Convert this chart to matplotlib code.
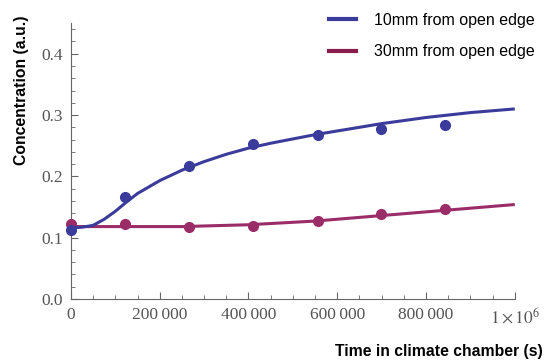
import matplotlib.pyplot as plt
from matplotlib.ticker import MultipleLocator, FuncFormatter
from matplotlib.lines import Line2D

plt.rcParams['mathtext.fontset'] = 'stix'

# measured points
t_pts = [0, 121600, 266000, 410000, 556000, 698000, 842000]
c10_pts = [0.112, 0.166, 0.217, 0.252, 0.267, 0.278, 0.284]
c30_pts = [0.122, 0.122, 0.117, 0.119, 0.127, 0.138, 0.146]

# fitted curves
t_fit = [0, 25000, 50000, 75000, 100000, 125000, 150000, 200000, 250000, 300000,
         350000, 400000, 450000, 500000, 550000, 600000, 650000, 700000, 750000,
         800000, 850000, 900000, 950000, 1000000]
c10_fit = [0.116, 0.117, 0.120, 0.130, 0.143, 0.158, 0.172, 0.193, 0.210, 0.224,
           0.236, 0.246, 0.254, 0.261, 0.268, 0.274, 0.280, 0.286, 0.291,
           0.296, 0.300, 0.304, 0.307, 0.310]
c30_fit = [0.118, 0.118, 0.118, 0.118, 0.118, 0.118, 0.118, 0.118, 0.118, 0.119,
           0.120, 0.121, 0.123, 0.125, 0.127, 0.130, 0.133, 0.136, 0.139,
           0.142, 0.145, 0.148, 0.151, 0.154]

labels = ['10mm from open edge', '30mm from open edge']
blue = '#3b3b9c'
red = '#9a2c68'
axis_gray = '#666666'

fig = plt.figure(figsize=(5.5, 3.61), dpi=100)
ax = fig.add_axes([0.129, 0.172, 0.807, 0.764])

ax.plot(t_fit, c30_fit, color=red, lw=2.2, solid_capstyle='butt', zorder=3)
ax.plot(t_pts, c30_pts, 'o', color=red, ms=7, zorder=3, clip_on=False)
ax.plot(t_fit, c10_fit, color=blue, lw=2.2, solid_capstyle='butt', zorder=4)
ax.plot(t_pts, c10_pts, 'o', color=blue, ms=7, zorder=4, clip_on=False)

ax.set_xlim(0, 1e6)
ax.set_ylim(0, 0.45)

for s in ['top', 'right']:
    ax.spines[s].set_visible(False)
for s in ['left', 'bottom']:
    ax.spines[s].set_color(axis_gray)
    ax.spines[s].set_linewidth(0.8)

ax.xaxis.set_major_locator(MultipleLocator(200000))
ax.xaxis.set_minor_locator(MultipleLocator(50000))
ax.yaxis.set_major_locator(MultipleLocator(0.1))
ax.yaxis.set_minor_locator(MultipleLocator(0.02))


def xfmt(v, pos):
    if v == 0:
        return '0'
    if v >= 1e6:
        return r'$1\times10^{6}$'
    s = f'{int(v):d}'
    return s[:-3] + '\u2009' + s[-3:]


ax.xaxis.set_major_formatter(FuncFormatter(xfmt))
ax.yaxis.set_major_formatter(FuncFormatter(lambda v, p: f'{v:.1f}'))

ax.tick_params(which='both', direction='in', colors=axis_gray, labelcolor='#555555')
ax.tick_params(which='major', length=5, width=0.8, labelsize=12.5, pad=6)
ax.tick_params(which='minor', length=3, width=0.6)
for lab in ax.get_xticklabels() + ax.get_yticklabels():
    lab.set_fontfamily(['Liberation Serif', 'DejaVu Serif'])

fig.text(0.04, 0.75, 'Concentration (a.u.)', rotation=90, ha='center', va='center',
         fontsize=11.3, fontweight='bold', family='Liberation Sans')
fig.text(0.987, 0.027, 'Time in climate chamber (s)', ha='right', va='center',
         fontsize=11.3, fontweight='bold', family='Liberation Sans')

handles = [Line2D([], [], color=blue, lw=3), Line2D([], [], color='#8a1c4c', lw=3)]
leg = fig.legend(handles, labels, loc='upper left', bbox_to_anchor=(0.572, 1.005),
                 frameon=False, handlelength=1.7, handletextpad=1.1,
                 labelspacing=1.05, prop={'family': 'Liberation Sans', 'size': 11.5})

fig.savefig('out.png', dpi=100)
